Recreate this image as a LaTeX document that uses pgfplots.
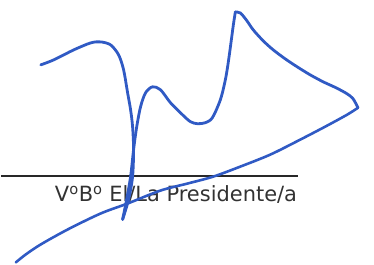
\documentclass[border=0pt]{standalone}
\usepackage{pgfplots}
\pgfplotsset{compat=1.18}
\usepackage{fontspec}
\setmainfont{DejaVu Sans}
\definecolor{ink}{RGB}{48,90,196}
\definecolor{rule}{RGB}{40,40,40}
\definecolor{txt}{RGB}{50,50,50}
\begin{document}
\begin{tikzpicture}
\begin{axis}[
  width=374bp, height=265bp, scale only axis,
  xmin=0, xmax=374, ymin=0, ymax=265, y dir=reverse,
  hide axis, clip=false,
]
\path (rel axis cs:0,0) -- (rel axis cs:1,1);
% baseline rule
\addplot[rule, line width=1.8bp] coordinates {(0,176.5) (298,176.5)};
% caption
\node[anchor=base west, inner sep=0pt, text=txt, font=\fontsize{21bp}{24bp}\selectfont] at (axis cs:54,202) {V\textsuperscript{o}B\textsuperscript{o} El/La Presidente/a};
% signature strokes
\addplot[ink, line width=2.8bp, smooth, tension=0.5, line cap=round] coordinates {
(40,65) (53,60) (73,50) (90,43) (100,42) (110,45) (118,55) (123,70) (127,93) (130,110) (132,127) (133,150) (132,177) (128,200) (122,220)};
\addplot[ink, line width=2.8bp, smooth, tension=0.5, line cap=round] coordinates {
(122,220) (126,200) (130,177) (133,150) (136,128) (140,107) (145,93) (152,87) (160,90) (170,103) (182,115) (190,122) (197,124) (205,123) (212,118) (220,100) (225,80) (228,62) (231,40) (233,25) (235,12)};
\addplot[ink, line width=2.8bp, smooth, tension=0.5, line cap=round] coordinates {
(235,12) (240,13) (246,20) (253,30) (263,41) (273,50) (285,59) (297,67) (310,75) (323,82) (336,88) (347,94) (353,99) (358,108)};
\addplot[ink, line width=2.6bp, smooth, tension=0.5, line cap=round] coordinates {
(358,108) (347,115) (325,127) (300,140) (270,155) (240,167) (213,177) (187,184) (160,191) (127,204) (100,214) (67,230) (40,245) (25,255) (15,263)};
\end{axis}
\end{tikzpicture}
\end{document}
